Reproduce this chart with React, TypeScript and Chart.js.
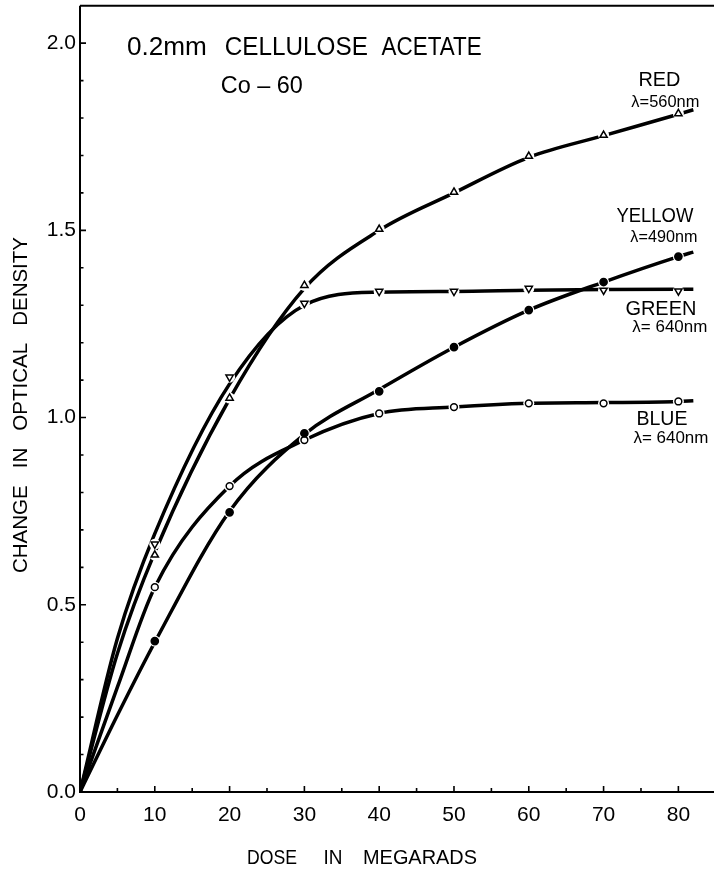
import React, { useEffect, useRef } from "react";
import { Chart, registerables } from "chart.js";

Chart.register(...registerables);

// ---- data ----
const MARK_DOSE = [10, 20, 30, 40, 50, 60, 70, 80];
const RED_MARKS = [0.633, 1.052, 1.353, 1.503, 1.602, 1.698, 1.754, 1.812]; // open triangle up
const GREEN_MARKS = [0.662, 1.108, 1.305, 1.337, 1.337, 1.345, 1.34, 1.338]; // open triangle down
const YELLOW_MARKS = [0.403, 0.747, 0.958, 1.07, 1.188, 1.287, 1.362, 1.43]; // filled circle
const BLUE_MARKS = [0.547, 0.817, 0.94, 1.011, 1.028, 1.038, 1.038, 1.043]; // open circle

const CURVE_DOSE = [0, 5, 10, 20, 30, 40, 50, 60, 70, 80, 82];
const RED_CURVE = [0, 0.37, 0.64, 1.05, 1.345, 1.5, 1.6, 1.695, 1.753, 1.81, 1.822];
const GREEN_CURVE = [0, 0.41, 0.69, 1.09, 1.3, 1.335, 1.337, 1.34, 1.342, 1.343, 1.343];
const YELLOW_CURVE = [0, 0.205, 0.4, 0.75, 0.955, 1.075, 1.188, 1.287, 1.362, 1.43, 1.442];
const BLUE_CURVE = [0, 0.28, 0.547, 0.817, 0.94, 1.011, 1.028, 1.038, 1.04, 1.043, 1.045];

const TITLE_WORDS = ["0.2mm", "CELLULOSE", "ACETATE"];
const SOURCE_TEXT = "Co – 60";
const SERIES_NAMES = ["RED", "YELLOW", "GREEN", "BLUE"];
const SERIES_WAVES = ["λ=560nm", "λ=490nm", "λ= 640nm", "λ= 640nm"];
const X_TITLE_WORDS = ["DOSE", "IN", "MEGARADS"];
const Y_TITLE = "CHANGE   IN   OPTICAL   DENSITY";

const FONT = '"Liberation Sans", Arial, sans-serif';
const TICK_FONT = '"Liberation Sans Narrow", "Liberation Sans", Arial, sans-serif';

const pts = (xs: number[], ys: number[]) => xs.map((x, i) => ({ x, y: ys[i] }));

function fitText(
  ctx: CanvasRenderingContext2D,
  text: string,
  cx: number,
  baseY: number,
  width: number,
  size: number,
  rot = 0
) {
  ctx.save();
  ctx.font = `${size}px ${FONT}`;
  const m = ctx.measureText(text).width || 1;
  ctx.translate(cx, baseY);
  if (rot) ctx.rotate(rot);
  ctx.scale(width / m, 1);
  ctx.textAlign = "center";
  ctx.textBaseline = "alphabetic";
  ctx.fillStyle = "#000";
  ctx.fillText(text, 0, 0);
  ctx.restore();
}

const paperPlugin = {
  id: "paper",
  afterDraw(chart: any) {
    const ctx: CanvasRenderingContext2D = chart.ctx;
    const { left, top, bottom } = chart.chartArea;
    const right = chart.width;
    const xs = chart.scales.x;
    const ys = chart.scales.y;
    ctx.save();
    ctx.strokeStyle = "#000";
    ctx.lineWidth = 2;
    ctx.beginPath();
    ctx.moveTo(left, top);
    ctx.lineTo(right, top);
    ctx.moveTo(left, top);
    ctx.lineTo(left, bottom);
    ctx.lineTo(right, bottom);
    ctx.stroke();

    // tick marks (inside)
    ctx.lineWidth = 1.6;
    ctx.beginPath();
    ys.ticks.forEach((t: any) => {
      const v = t.value;
      if (v <= 0 || v >= ys.max - 1e-6) return;
      const major = Math.abs(v * 2 - Math.round(v * 2)) < 1e-6;
      const py = ys.getPixelForValue(v);
      ctx.moveTo(left, py);
      ctx.lineTo(left + (major ? 6 : 3.5), py);
    });
    xs.ticks.forEach((t: any) => {
      const v = t.value;
      if (v <= 0) return;
      const major = Math.round(v) % 10 === 0;
      const px = xs.getPixelForValue(v);
      ctx.moveTo(px, bottom);
      ctx.lineTo(px, bottom - (major ? 6 : 4));
    });
    ctx.stroke();
    ctx.restore();

    const X = (v: number) => xs.getPixelForValue(v);
    const Y = (v: number) => ys.getPixelForValue(v);

    // title
    fitText(ctx, TITLE_WORDS[0], X(11.62), Y(1.967), 80, 25);
    fitText(ctx, TITLE_WORDS[1], X(28.92), Y(1.967), 143, 25);
    fitText(ctx, TITLE_WORDS[2], X(47.01), Y(1.967), 100, 25);
    fitText(ctx, SOURCE_TEXT, X(24.31), Y(1.866), 82, 24);

    // series labels
    fitText(ctx, SERIES_NAMES[0], X(77.46), Y(1.885), 42, 20);
    fitText(ctx, SERIES_WAVES[0], X(78.26), Y(1.829), 68, 17);
    fitText(ctx, SERIES_NAMES[1], X(76.86), Y(1.522), 77, 21);
    fitText(ctx, SERIES_WAVES[1], X(78.06), Y(1.468), 67, 17);
    fitText(ctx, SERIES_NAMES[2], X(77.66), Y(1.273), 71, 21);
    fitText(ctx, SERIES_WAVES[2], X(78.86), Y(1.228), 75, 17);
    fitText(ctx, SERIES_NAMES[3], X(77.8), Y(0.98), 51, 21);
    fitText(ctx, SERIES_WAVES[3], X(79.0), Y(0.932), 75, 17);

    // axis titles
    fitText(ctx, X_TITLE_WORDS[0], 272, 864, 50, 21);
    fitText(ctx, X_TITLE_WORDS[1], 333, 864, 19, 21);
    fitText(ctx, X_TITLE_WORDS[2], 420, 864, 114, 21);
    fitText(ctx, Y_TITLE, 27, 405, 336, 21, -Math.PI / 2);
  },
};

const curve = (label: string, xs: number[], ys: number[]) => ({
  label,
  data: pts(xs, ys),
  showLine: true,
  borderColor: "#000",
  borderWidth: 3.5,
  pointRadius: 0,
  cubicInterpolationMode: "monotone" as const,
  fill: false,
  order: 3,
});

const halo = (ys: number[]) => ({
  label: "halo",
  data: pts(MARK_DOSE, ys),
  showLine: false,
  pointRadius: 5.5,
  pointStyle: "circle",
  pointBackgroundColor: "#fff",
  pointBorderWidth: 0,
  pointBorderColor: "#fff",
  order: 2,
});

const marks = (label: string, ys: number[], style: string, filled: boolean, rotation = 0, r = 3.6) => ({
  label,
  data: pts(MARK_DOSE, ys),
  showLine: false,
  pointRadius: r,
  pointStyle: style,
  pointRotation: rotation,
  pointBackgroundColor: filled ? "#000" : "#fff",
  pointBorderColor: "#000",
  pointBorderWidth: 1.5,
  order: 1,
});

export default function App() {
  const ref = useRef<HTMLCanvasElement | null>(null);
  useEffect(() => {
    document.body.style.margin = "0";
    const canvas = ref.current;
    if (!canvas) return;
    const chart = new Chart(canvas, {
      type: "scatter",
      data: {
        datasets: [
          curve("RED", CURVE_DOSE, RED_CURVE),
          curve("GREEN", CURVE_DOSE, GREEN_CURVE),
          curve("YELLOW", CURVE_DOSE, YELLOW_CURVE),
          curve("BLUE", CURVE_DOSE, BLUE_CURVE),
          halo(RED_MARKS),
          halo(GREEN_MARKS),
          halo(YELLOW_MARKS),
          halo(BLUE_MARKS),
          marks("RED points", RED_MARKS, "triangle", false, 0, 4.2),
          marks("GREEN points", GREEN_MARKS, "triangle", false, 180, 4.2),
          marks("YELLOW points", YELLOW_MARKS, "circle", true, 0, 3.6),
          marks("BLUE points", BLUE_MARKS, "circle", false, 0, 3.4),
        ] as any,
      },
      options: {
        animation: false,
        responsive: false,
        devicePixelRatio: 1,
        layout: { padding: { top: 5, right: 0, left: 0, bottom: 0 } },
        plugins: {
          legend: { display: false },
          tooltip: { enabled: false },
          title: { display: false },
        },
        scales: {
          x: {
            type: "linear",
            min: 0,
            max: 84.0,
            grid: { display: false, drawTicks: false },
            border: { display: false },
            ticks: {
              stepSize: 5,
              includeBounds: false,
              autoSkip: false,
              maxRotation: 0,
              padding: 11,
              color: "#000",
              font: { family: TICK_FONT, size: 21 },
              callback: (v: any) => (Math.round(Number(v)) % 10 === 0 ? String(Math.round(Number(v))) : ""),
            },
            afterFit: (s: any) => {
              s.height = 77;
              s.paddingLeft = 0;
              s.paddingRight = 0;
            },
          },
          y: {
            type: "linear",
            min: 0,
            max: 2.1,
            grid: { display: false, drawTicks: false },
            border: { display: false },
            ticks: {
              stepSize: 0.1,
              includeBounds: false,
              autoSkip: false,
              padding: 4,
              color: "#000",
              font: { family: TICK_FONT, size: 21 },
              callback: (v: any) => {
                const n = Number(v);
                return Math.abs(n * 2 - Math.round(n * 2)) < 1e-6 ? n.toFixed(1) : "";
              },
            },
            afterFit: (s: any) => {
              s.width = 80;
              s.paddingTop = 0;
              s.paddingBottom = 0;
            },
          },
        },
      } as any,
      plugins: [paperPlugin],
    });
    return () => chart.destroy();
  }, []);
  return (
    <div style={{ width: 714, height: 869, background: "#fff" }}>
      <canvas ref={ref} width={714} height={869} style={{ display: "block" }} />
    </div>
  );
}
